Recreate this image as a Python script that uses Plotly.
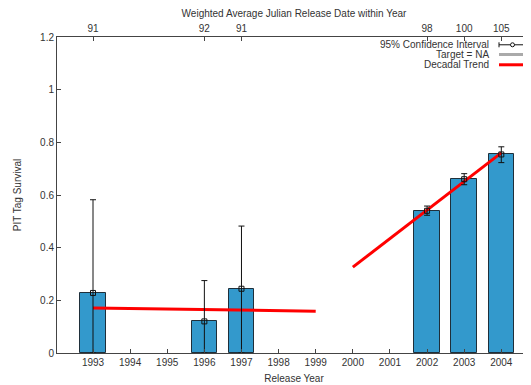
import plotly.graph_objects as go

years = [1993, 1996, 1997, 2002, 2003, 2004]
survival = [0.228, 0.120, 0.244, 0.540, 0.660, 0.754]
ci_upper = [0.582, 0.275, 0.482, 0.558, 0.681, 0.783]
ci_lower = [0.0, 0.0, 0.0, 0.523, 0.639, 0.723]
julian_dates = ["91", "92", "91", "98", "100", "105"]
all_years = list(range(1993, 2005))
trend1_x = [1993, 1999]
trend1_y = [0.171, 0.159]
trend2_x = [2000, 2004]
trend2_y = [0.326, 0.760]

FONT = "Liberation Sans, Arial, sans-serif"
x_range = [1992.03, 2004.8]

# page body has an 8px margin; figure is sized/offset to compensate
OFF = 8

fig = go.Figure()
fig.add_trace(go.Bar(
    x=years, y=survival, width=0.69,
    marker=dict(color="#3399cc", line=dict(color="#1f2f3a", width=1)),
    showlegend=False,
))
fig.add_trace(go.Scatter(
    x=trend1_x, y=trend1_y, mode="lines",
    line=dict(color="#ff0000", width=3), showlegend=False,
))
fig.add_trace(go.Scatter(
    x=trend2_x, y=trend2_y, mode="lines",
    line=dict(color="#ff0000", width=3), showlegend=False,
))
fig.add_trace(go.Scatter(
    x=years, y=survival, mode="markers",
    marker=dict(symbol="square-open", size=5, color="#111111", line=dict(width=1)),
    error_y=dict(
        type="data", symmetric=False,
        array=[u - s for u, s in zip(ci_upper, survival)],
        arrayminus=[s - l for s, l in zip(survival, ci_lower)],
        color="#111111", thickness=1, width=3,
    ),
    showlegend=False,
))
# invisible trace to activate the top axis
fig.add_trace(go.Scatter(x=years, y=survival, xaxis="x2", mode="markers",
                         marker=dict(opacity=0), showlegend=False, hoverinfo="skip"))

axis_common = dict(showgrid=False, zeroline=False, showline=True, linecolor="#444444",
                   linewidth=1, ticks="inside", ticklen=4, tickcolor="#444444",
                   tickfont=dict(family=FONT, size=10, color="#333333"))

fig.update_layout(
    width=531 - OFF, height=385 - OFF,
    margin=dict(l=57 - OFF, r=0, t=36.5 - OFF, b=32.3),
    paper_bgcolor="white", plot_bgcolor="white",
    font=dict(family=FONT, size=10, color="#333333"),
    bargap=0,
    xaxis=dict(range=x_range, tickvals=all_years, ticktext=[str(y) for y in all_years],
               title=dict(text="Release Year", font=dict(size=10), standoff=7),
               automargin=False, **axis_common),
    xaxis2=dict(range=x_range, overlaying="x", side="top", tickvals=years,
                ticktext=julian_dates,
                title=dict(text="Weighted Average Julian Release Date within Year",
                           font=dict(size=10), standoff=9),
                automargin=False, **axis_common),
    yaxis=dict(range=[0, 1.2], tickvals=[0, 0.2, 0.4, 0.6, 0.8, 1, 1.2],
               ticktext=["0", "0.2", "0.4", "0.6", "0.8", "1", "1.2"],
               title=dict(text="PIT Tag Survival", font=dict(size=10), standoff=16),
               automargin=False, **axis_common),
    showlegend=False,
)

# Custom legend (text on left, sample on right, gnuplot style); page-pixel helpers
def px_x(px):
    return (px - 57) / 474.0

def px_y(py):
    return (352.7 - py) / 316.2

legend_rows = [("95% Confidence Interval", 44.3), ("Target = NA", 54.0), ("Decadal Trend", 64.3)]
for text, py in legend_rows:
    fig.add_annotation(x=px_x(491), y=px_y(py), xref="paper", yref="paper",
                       text=text, showarrow=False, xanchor="right", yanchor="middle",
                       font=dict(family=FONT, size=10, color="#333333"))

y1 = px_y(44.3)
fig.add_shape(type="line", xref="paper", yref="paper", x0=px_x(499), x1=px_x(526), y0=y1, y1=y1,
              line=dict(color="#111111", width=1))
for cx in (499, 526):
    fig.add_shape(type="line", xref="paper", yref="paper", x0=px_x(cx), x1=px_x(cx),
                  y0=px_y(41.8), y1=px_y(46.8), line=dict(color="#111111", width=1))
fig.add_shape(type="circle", xref="paper", yref="paper", x0=px_x(510.5), x1=px_x(514.5),
              y0=px_y(42.3), y1=px_y(46.3), line=dict(color="#111111", width=1), fillcolor="white")
fig.add_shape(type="line", xref="paper", yref="paper", x0=px_x(499), x1=px_x(526),
              y0=px_y(54), y1=px_y(54), line=dict(color="#aaaaaa", width=3))
fig.add_shape(type="line", xref="paper", yref="paper", x0=px_x(499), x1=px_x(526),
              y0=px_y(64.3), y1=px_y(64.3), line=dict(color="#ff0000", width=3))

fig.write_html("out.html")
